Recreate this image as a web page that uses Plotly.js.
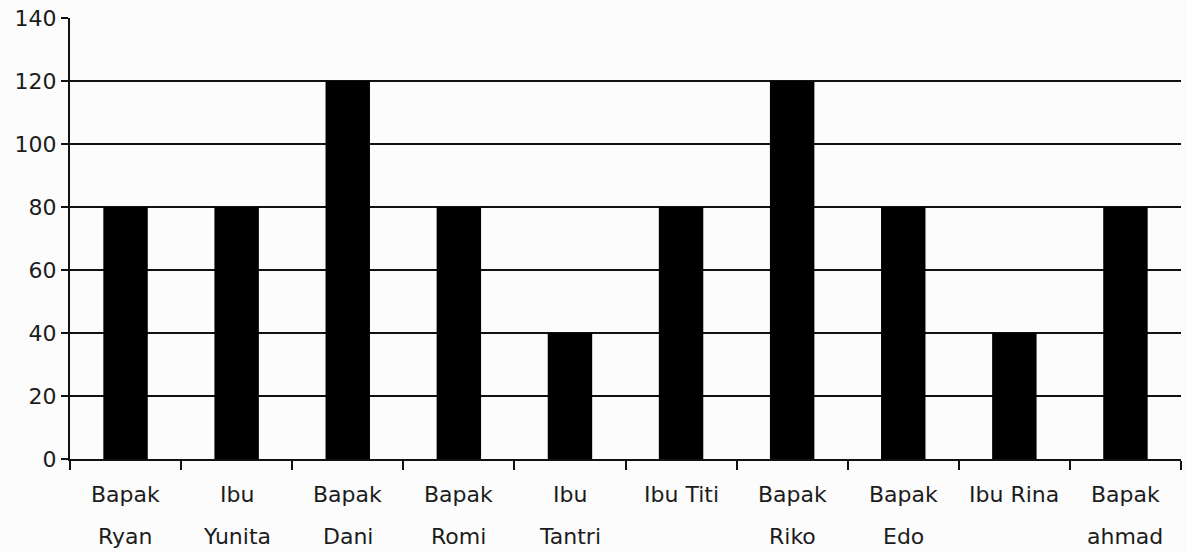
<!DOCTYPE html>
<html>
<head>
<meta charset="utf-8">
<script src="https://cdn.plot.ly/plotly-3.0.1.min.js"></script>
<style>html,body{margin:0;padding:0;background:#fcfcfc;}#chart{width:1187px;height:552px;}</style>
</head>
<body>
<div id="chart"></div>
<script>
const categories = ["Bapak Ryan","Ibu Yunita","Bapak Dani","Bapak Romi","Ibu Tantri","Ibu Titi","Bapak Riko","Bapak Edo","Ibu Rina","Bapak ahmad"];
const labelLine1 = ["Bapak","Ibu","Bapak","Bapak","Ibu","Ibu Titi","Bapak","Bapak","Ibu Rina","Bapak"];
const labelLine2 = ["Ryan","Yunita","Dani","Romi","Tantri","","Riko","Edo","","ahmad"];
const values = [80,80,120,80,40,80,120,80,40,80];
const yTicks = [0,20,40,60,80,100,120,140];

const font = {family: "'DejaVu Sans', 'Noto Sans', sans-serif", size: 22, color: "#1c1c1c"};

const annotations = [];
categories.forEach((c, i) => {
  annotations.push({x: c, xref: 'x', y: 0, yref: 'y', yanchor: 'middle', yshift: -35,
    text: labelLine1[i], showarrow: false, font: font});
  if (labelLine2[i]) {
    annotations.push({x: c, xref: 'x', y: 0, yref: 'y', yanchor: 'middle', yshift: -77,
      text: labelLine2[i], showarrow: false, font: font});
  }
});

const trace = {type: 'bar', x: categories, y: values, marker: {color: '#000', line: {width: 0}}, hoverinfo: 'x+y'};

const layout = {
  width: 1187, height: 552,
  margin: {l: 70, r: 6, t: 18, b: 93},
  paper_bgcolor: '#fcfcfc', plot_bgcolor: '#fcfcfc',
  font: font,
  bargap: 0.6,
  showlegend: false,
  xaxis: {type: 'category', showticklabels: false, ticks: 'outside', tickson: 'boundaries',
    ticklen: 9, tickwidth: 2, tickcolor: '#111', showline: true, linecolor: '#111', linewidth: 2,
    showgrid: false, zeroline: false, fixedrange: true},
  yaxis: {range: [0, 140], tickvals: yTicks, ticks: 'outside', ticklen: 7, tickwidth: 2, tickcolor: '#111',
    showline: true, linecolor: '#111', linewidth: 2, showgrid: true, gridcolor: '#111', gridwidth: 2.5,
    zeroline: false, tickfont: font, fixedrange: true},
  annotations: annotations
};

Plotly.newPlot('chart', [trace], layout, {displayModeBar: false, staticPlot: true});
</script>
</body>
</html>
